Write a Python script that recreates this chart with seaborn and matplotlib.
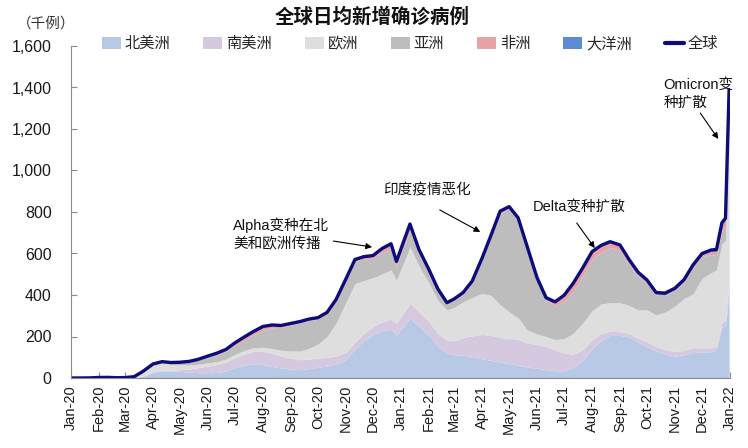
import numpy as np
import pandas as pd
import matplotlib
matplotlib.use('Agg')
import matplotlib.pyplot as plt
import matplotlib.dates as mdates
from matplotlib.ticker import FuncFormatter, MultipleLocator
from matplotlib.patches import Patch
from matplotlib.lines import Line2D
import seaborn as sns

# ---------------- data (thousand cases, 7-day average) ----------------
dates = ['2020-01-01', '2020-01-11', '2020-01-21', '2020-02-01', '2020-02-11', '2020-02-21',
         '2020-03-01', '2020-03-11', '2020-03-21', '2020-04-01', '2020-04-11', '2020-04-21',
         '2020-05-01', '2020-05-11', '2020-05-21', '2020-06-01', '2020-06-11', '2020-06-21',
         '2020-07-01', '2020-07-11', '2020-07-21', '2020-08-01', '2020-08-11', '2020-08-21',
         '2020-09-01', '2020-09-11', '2020-09-21', '2020-10-01', '2020-10-11', '2020-10-21',
         '2020-11-01', '2020-11-11', '2020-11-21', '2020-12-01', '2020-12-11', '2020-12-21',
         '2020-12-27', '2021-01-01', '2021-01-11', '2021-01-21', '2021-02-01', '2021-02-11',
         '2021-02-21', '2021-03-01', '2021-03-11', '2021-03-21', '2021-04-01', '2021-04-11',
         '2021-04-21', '2021-05-01', '2021-05-11', '2021-05-21', '2021-06-01', '2021-06-11',
         '2021-06-21', '2021-07-01', '2021-07-11', '2021-07-21', '2021-08-01', '2021-08-11',
         '2021-08-21', '2021-09-01', '2021-09-11', '2021-09-21', '2021-10-01', '2021-10-11',
         '2021-10-21', '2021-11-01', '2021-11-11', '2021-11-21', '2021-12-01', '2021-12-11',
         '2021-12-17', '2021-12-23', '2021-12-27', '2021-12-31']

north_america = [0, 0, 0, 0, 0, 0,
                 0.1, 0.5, 8, 27, 35, 33,
                 32, 28, 26, 25, 27, 35,
                 50, 62, 68, 64, 56, 48,
                 43, 40, 45, 52, 58, 68,
                 90, 140, 180, 210, 228, 235,
                 207, 235, 287, 250, 205, 152,
                 120, 112, 110, 103, 93, 85,
                 77, 69, 61, 53, 47, 40,
                 35, 35, 50, 82, 142, 180,
                 205, 205, 198, 175, 151, 130,
                 115, 105, 112, 122, 125, 127,
                 135, 245, 255, 410]
south_america = [0, 0, 0, 0, 0, 0,
                 0, 0.1, 1, 2.5, 3.5, 5,
                 9, 15, 24, 33, 38, 42,
                 48, 53, 60, 64, 63, 58,
                 52, 48, 46, 44, 42, 38,
                 35, 33, 35, 38, 42, 48,
                 58, 60, 73, 67, 68, 63,
                 63, 68, 85, 100, 117, 120,
                 118, 122, 126, 116, 115, 112,
                 100, 85, 65, 52, 42, 34,
                 20, 18, 17, 16, 24, 22,
                 22, 22, 21, 24, 20, 18,
                 18, 22, 25, 60]
europe = [0, 0, 0, 0, 0, 0.1,
          0.5, 3.5, 20, 32, 33, 28,
          23, 19, 16, 15, 14, 15,
          16, 17, 18, 20, 23, 28,
          35, 42, 52, 68, 100, 158,
          240, 282, 255, 235, 232, 238,
          207, 228, 272, 222, 185, 160,
          145, 160, 172, 185, 198, 193,
          158, 128, 103, 63, 50, 48,
          50, 70, 100, 128, 140, 143,
          138, 140, 135, 137, 153, 152,
          180, 220, 250, 260, 335, 362,
          368, 380, 385, 750]
asia = [0, 0.1, 0.5, 2.5, 3, 1.2,
        1.5, 2.2, 3, 5, 6, 7,
        10, 15, 20, 27, 33, 37,
        44, 50, 60, 82, 100, 110,
        125, 135, 134, 120, 108, 105,
        103, 105, 103, 95, 105, 103,
        66, 72, 80, 55, 48, 43,
        26, 33, 37, 70, 160, 280,
        440, 497, 473, 393, 262, 176,
        165, 180, 202, 225, 248, 248,
        266, 252, 198, 163, 128, 95,
        80, 75, 80, 124, 105, 88,
        70, 64, 65, 110]
africa = [0, 0, 0, 0, 0, 0,
          0, 0.05, 0.3, 0.7, 1, 1.5,
          2, 3, 4, 6, 8, 9,
          12, 15, 17, 18, 13, 9,
          8, 7, 7, 7, 8, 9,
          10, 11, 12, 12, 17, 23,
          24, 27, 30, 25, 17, 11,
          9, 8, 8, 9, 10, 11,
          11, 10, 9, 9, 9, 11,
          17, 28, 38, 38, 35, 31,
          24, 20, 15, 11, 8, 5,
          4, 4, 4, 5, 8, 15,
          20, 28, 30, 35]
oceania = [0, 0, 0, 0, 0, 0,
           0, 0.05, 0.3, 0.4, 0.3, 0.1,
           0, 0, 0, 0, 0, 0,
           0.1, 0.2, 0.3, 0.5, 0.4, 0.2,
           0.1, 0, 0, 0, 0, 0,
           0, 0, 0, 0, 0, 0,
           0, 0, 0.1, 0, 0, 0,
           0, 0, 0, 0, 0, 0,
           0, 0, 0, 0, 0, 0,
           0, 1, 1, 1, 2, 3,
           4, 6, 8, 8, 8, 8,
           8, 7, 7, 10, 7, 7,
           8, 9, 10, 25]

series_names = ['北美洲', '南美洲', '欧洲', '亚洲', '非洲', '大洋洲']
total_name = '全球'
yticks = [0, 200, 400, 600, 800, 1000, 1200, 1400, 1600]

# ---------------- style ----------------
colors = ['#b8c9e6', '#d5c9e0', '#dedede', '#bdbdbd', '#e7a2a8', '#5a8bd3']
navy = '#0c0c7a'

sns.set_theme(style='white')
plt.rcParams['font.family'] = ['Liberation Sans', 'Noto Sans CJK SC']
plt.rcParams['axes.unicode_minus'] = False

x = pd.to_datetime(dates)
stack = np.array([north_america, south_america, europe, asia, africa, oceania], dtype=float)
total = stack.sum(axis=0)
df = pd.DataFrame({'date': x, 'total': total})

fig = plt.figure(figsize=(7.48, 4.48), dpi=100)
ax = fig.add_axes([71 / 748, 1 - 378 / 448, (730 - 71) / 748, (378 - 46) / 448])

ax.stackplot(x, *stack, colors=colors, linewidth=0)
sns.lineplot(data=df, x='date', y='total', color=navy, lw=2.4, ax=ax, legend=False)

ax.set_xlim(pd.Timestamp('2020-01-01'), pd.Timestamp('2022-01-01'))
ax.set_ylim(0, 1600)
ax.set_yticks(yticks)
ax.yaxis.set_major_formatter(FuncFormatter(lambda v, p: f'{int(v):,}'))
ax.xaxis.set_major_locator(mdates.MonthLocator())
ax.xaxis.set_major_formatter(mdates.DateFormatter('%b-%y'))
ax.set_xlabel('')
ax.set_ylabel('')

for s in ['top', 'right']:
    ax.spines[s].set_visible(False)
for s in ['left', 'bottom']:
    ax.spines[s].set_color('#8a8a8a')
    ax.spines[s].set_linewidth(0.8)

ax.tick_params(axis='y', direction='in', length=4, width=0.8, color='#8a8a8a',
               pad=14, labelsize=11.5, labelcolor='#1a1a1a', left=True)
ax.tick_params(axis='x', direction='in', length=4, width=0.8, color='#8a8a8a',
               pad=5, labelsize=10.5, labelcolor='#1a1a1a', bottom=True, labelrotation=90)
ax.grid(False)

# title and unit
fig.text(372 / 748, 1 - 17 / 448, '全球日均新增确诊病例', ha='center', va='center',
         fontsize=14, fontweight='bold', color='#111111')
fig.text(17 / 748, 1 - 24 / 448, '（千例）', ha='left', va='center', fontsize=10.5, color='#333333')

# legend
handles = [Patch(facecolor=c, edgecolor='none') for c in colors] + \
          [Line2D([0], [0], color=navy, lw=3)]
labels = series_names + [total_name]
fig.legend(handles, labels, ncol=7, loc='center', bbox_to_anchor=(0.548, 1 - 44 / 448),
           frameon=False, fontsize=11, handlelength=1.25, handleheight=0.75,
           handletextpad=0.25, columnspacing=2.15, borderaxespad=0, borderpad=0)

# annotations
arrow = dict(arrowstyle='-|>', color='black', lw=0.8, mutation_scale=9, shrinkA=0, shrinkB=0)
def T(s):
    return pd.Timestamp(s)

ax.text(T('2020-06-29'), 694, 'Alpha变种在北\n美和欧洲传播', ha='left', va='center',
        fontsize=10.5, linespacing=1.35, color='#111111')
ax.annotate('', xy=(T('2020-11-30'), 631), xytext=(T('2020-10-18'), 660), arrowprops=arrow)

ax.text(T('2020-12-12'), 906, '印度疫情恶化', ha='left', va='center', fontsize=10.5, color='#111111')
ax.annotate('', xy=(T('2021-03-30'), 704), xytext=(T('2021-02-13'), 810), arrowprops=arrow)

ax.text(T('2021-05-27'), 824, 'Delta变种扩散', ha='left', va='center', fontsize=10.5, color='#111111')
ax.annotate('', xy=(T('2021-08-04'), 626), xytext=(T('2021-07-15'), 747), arrowprops=arrow)

ax.text(T('2021-10-19'), 1369, 'Omicron变\n种扩散', ha='left', va='center', fontsize=10.5,
        linespacing=1.35, color='#111111')
ax.annotate('', xy=(T('2021-12-19'), 1152), xytext=(T('2021-11-29'), 1277), arrowprops=arrow)

fig.savefig('out.png', dpi=100)
